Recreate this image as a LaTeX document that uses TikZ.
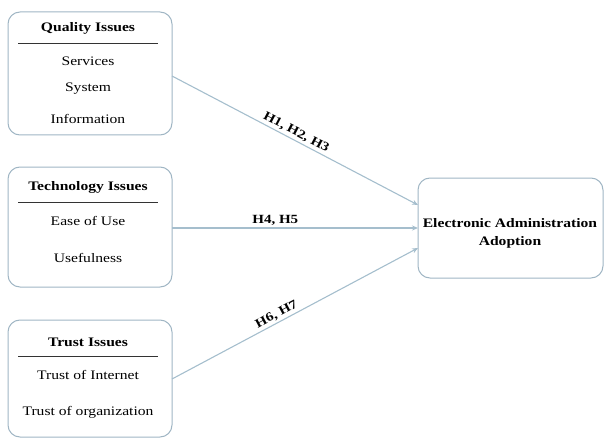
\documentclass[tikz,border=0pt]{standalone}
\usepackage{fontspec}
\usepackage{graphicx}
\setmainfont{Liberation Serif}
\usetikzlibrary{arrows.meta}
\definecolor{edge}{RGB}{160,182,196}
\definecolor{link}{RGB}{165,190,205}
\newcommand{\widetxt}[1]{\scalebox{1.2}[1]{#1}}
\begin{document}
\begin{tikzpicture}[x=1pt,y=-1pt,
  box/.style={draw=edge,line width=1pt,rounded corners=12pt},
  hdr/.style={font=\fontsize{13}{15}\selectfont\bfseries,anchor=center},
  item/.style={font=\fontsize{13}{15}\selectfont,anchor=center},
  rule/.style={draw=black!80,line width=0.8pt},
  conn/.style={draw=link,line width=1.1pt,-{Stealth[length=6pt,width=5pt]}},
  lab/.style={font=\fontsize{12.5}{14}\selectfont\bfseries,inner sep=2pt}]
\useasboundingbox (0,0) rectangle (605,441);
% boxes
\node[box,minimum width=164pt,minimum height=123pt] (q) at (90,73.5) {};
\node[box,minimum width=164pt,minimum height=120pt] (t) at (90,227) {};
\node[box,minimum width=164pt,minimum height=117pt] (u) at (90,378.5) {};
\node[box,minimum width=185pt,minimum height=100pt] (e) at (510.5,228) {};
\node[hdr] (e1t) at (510,223) {\widetxt{Electronic Administration}};
\node[hdr] (e2t) at (510,242) {\widetxt{Adoption}};
% quality
\node[hdr] (qh) at (88,28) {\widetxt{Quality Issues}};
\draw[rule] (18,43) -- (158,43);
\node[item] (q1) at (88,61) {\widetxt{Services}};
\node[item] (q2) at (88,89) {\widetxt{System}};
\node[item] (q3) at (88,119) {\widetxt{Information}};
% technology
\node[hdr] (th) at (88,187) {\widetxt{Technology Issues}};
\draw[rule] (18,202) -- (158,202);
\node[item] (t1) at (88,221) {\widetxt{Ease of Use}};
\node[item] (t2) at (88,258) {\widetxt{Usefulness}};
% trust
\node[hdr] (uh) at (88,342) {\widetxt{Trust Issues}};
\draw[rule] (18,356) -- (158,356);
\node[item] (u1) at (88,375) {\widetxt{Trust of Internet}};
\node[item] (u2) at (88,412) {\widetxt{Trust of organization}};
% connectors
\coordinate (qa) at (172,76);
\coordinate (ta) at (172,228);
\coordinate (ua) at (172,379);
\coordinate (e1) at (418,205);
\coordinate (e2) at (418,228);
\coordinate (e3) at (418,248);
\draw[conn] (qa) -- node[lab,sloped,above,pos=0.49] {\widetxt{H1, H2, H3}} (e1);
\draw[conn] (ta) -- node[lab,above,pos=0.42] {\widetxt{H4, H5}} (e2);
\draw[conn] (ua) -- node[lab,sloped,above,pos=0.44] {\widetxt{H6, H7}} (e3);
\end{tikzpicture}
\end{document}
